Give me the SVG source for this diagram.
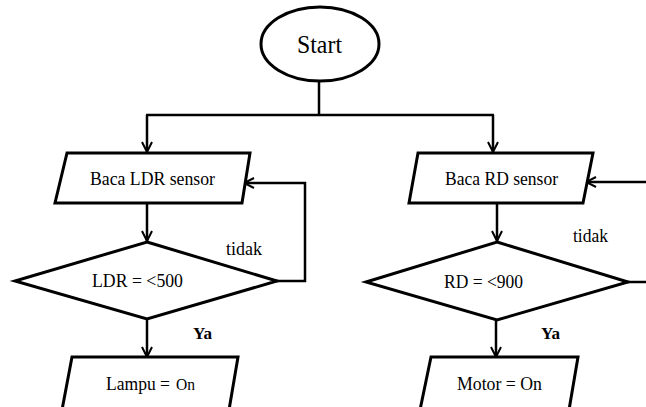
<svg xmlns="http://www.w3.org/2000/svg" width="646" height="407" viewBox="0 0 646 407">
  <style>
    .shape { fill: #ffffff; stroke: #000000; stroke-width: 3; stroke-linejoin: miter; }
    .line { fill: none; stroke: #000000; stroke-width: 2.5; }
  </style>
  <defs>
    <marker id="arrow" viewBox="0 0 12 12" refX="11" refY="6" markerWidth="12" markerHeight="12" markerUnits="userSpaceOnUse" orient="auto">
      <path d="M1,1 L11,6 L1,11" fill="none" stroke="#000000" stroke-width="2"/>
    </marker>
  </defs>
  <rect width="646" height="407" fill="#ffffff"/>

  <!-- connectors -->
  <g id="connectors">
    <path class="line" d="M319,82 L319,115"/>
    <path class="line" stroke-width="3" d="M146,115 L494,115"/>
    <path class="line" d="M147,115 L147,152" marker-end="url(#arrow)"/>
    <path class="line" d="M493,115 L493,152" marker-end="url(#arrow)"/>
    <path class="line" d="M147,203 L147,241" marker-end="url(#arrow)"/>
    <path class="line" d="M497,203 L497,241" marker-end="url(#arrow)"/>
    <path class="line" stroke-width="3" d="M276,281 L305,281 L305,183 L244,183" marker-end="url(#arrow)"/>
    <path class="line" stroke-width="3" d="M627,282 L646,282"/>
    <path class="line" stroke-width="3" d="M646,182 L586,182" marker-end="url(#arrow)"/>
    <path class="line" d="M147,319 L147,357" marker-end="url(#arrow)"/>
    <path class="line" d="M496,320 L496,357" marker-end="url(#arrow)"/>
    <g font-family="'Liberation Serif', 'Times New Roman', serif" font-size="19" fill="#000000">
      <text x="226" y="255" textLength="36" lengthAdjust="spacingAndGlyphs">tidak</text>
      <text x="573" y="242" textLength="35" lengthAdjust="spacingAndGlyphs">tidak</text>
      <text x="193" y="339" font-weight="bold" font-size="17" textLength="19" lengthAdjust="spacingAndGlyphs">Ya</text>
      <text x="541" y="339" font-weight="bold" font-size="17" textLength="19" lengthAdjust="spacingAndGlyphs">Ya</text>
    </g>
  </g>

  <g font-family="'Liberation Serif', 'Times New Roman', serif" font-size="19" fill="#000000">
    <!-- start terminal -->
    <g id="start">
      <ellipse class="shape" cx="320" cy="44" rx="59" ry="37"/>
      <text x="297" y="53" font-size="26" textLength="45" lengthAdjust="spacingAndGlyphs">Start</text>
    </g>

    <!-- input: LDR sensor -->
    <g id="read-ldr">
      <polygon class="shape" points="67,153 250,153 242,203 55,203"/>
      <text x="90" y="185" textLength="125" lengthAdjust="spacingAndGlyphs">Baca LDR sensor</text>
    </g>

    <!-- input: RD sensor -->
    <g id="read-rd">
      <polygon class="shape" points="418,153 593,153 583,203 409,203"/>
      <text x="445" y="185" textLength="113" lengthAdjust="spacingAndGlyphs">Baca RD sensor</text>
    </g>

    <!-- decision: LDR -->
    <g id="check-ldr">
      <polygon class="shape" points="147,242 277,281 147,319 15,281"/>
      <text x="92" y="287" textLength="91" lengthAdjust="spacingAndGlyphs">LDR = &lt;500</text>
    </g>

    <!-- decision: RD -->
    <g id="check-rd">
      <polygon class="shape" points="497,242 628,282 497,320 366,282"/>
      <text x="444" y="288" textLength="79" lengthAdjust="spacingAndGlyphs">RD = &lt;900</text>
    </g>

    <!-- output: lamp (the "On" is set in a smaller size) -->
    <g id="lamp-on">
      <polygon class="shape" points="72,357 238,357 229,410 62,410"/>
      <text x="106" y="390" textLength="64" lengthAdjust="spacingAndGlyphs">Lampu =</text>
      <text x="176" y="390" font-size="16" textLength="19" lengthAdjust="spacingAndGlyphs">On</text>
    </g>

    <!-- output: motor -->
    <g id="motor-on">
      <polygon class="shape" points="431,357 578,357 569,410 420,410"/>
      <text x="457" y="390" textLength="85" lengthAdjust="spacingAndGlyphs">Motor = On</text>
    </g>
  </g>
</svg>
